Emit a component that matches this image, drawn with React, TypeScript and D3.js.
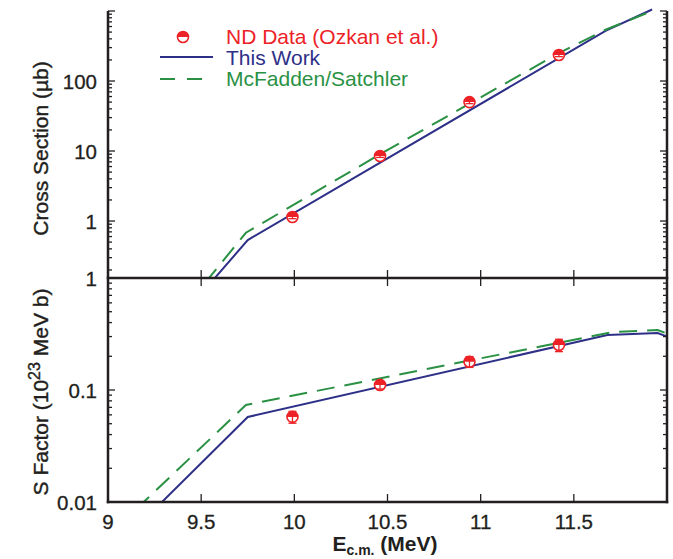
import React from 'react';
import * as d3 from 'd3';

// ---- data ----
const energies = [9.99, 10.46, 10.94, 11.42];
const crossSection = [1.14, 8.5, 50, 235];
const crossSectionErr = [0.06, 0.4, 2.5, 12];
const sFactor = [0.0575, 0.111, 0.179, 0.252];
const sFactorErr = [0.007, 0.009, 0.02, 0.032];

const thisWorkCsE = [9.55, 9.75, 11.67, 11.92];
const thisWorkCs = [0.13, 0.535, 520, 1050];
const mcfCsE = [9.52, 9.74, 10.46, 11.42, 11.67, 11.92];
const mcfCs = [0.13, 0.68, 9.0, 250, 540, 1000];

const thisWorkSE = [9.25, 9.75, 11.68, 11.95, 12.0];
const thisWorkS = [0.0086, 0.0574, 0.31, 0.323, 0.3];
const mcfSE = [9.15, 9.74, 11.71, 11.95, 12.0];
const mcfS = [0.0086, 0.0735, 0.329, 0.343, 0.32];

const xTicks = [9, 9.5, 10, 10.5, 11, 11.5];
const xTickLabels = ['9', '9.5', '10', '10.5', '11', '11.5'];
const topTicks = [1, 10, 100];
const topTickLabels = ['1', '10', '100'];
const bottomTicks = [0.01, 0.1, 1];
const bottomTickLabels = ['0.01', '0.1', '1'];

const legendLabels = ['ND Data (Ozkan et al.)', 'This Work', 'McFadden/Satchler'];

// ---- style ----
const RED = '#ec2227';
const BLUE = '#2e3088';
const GREEN = '#2a9144';
const AXIS = '#231f20';
const FONT = '"Liberation Sans", Arial, Helvetica, sans-serif';

const X0 = 108, X1 = 667;
const TOP0 = 11, MID = 278, BOT = 502;

const x = d3.scaleLinear().domain([9, 12]).range([X0, X1]);
const yTop = d3.scaleLog().domain([0.1535, 1000]).range([MID, TOP0]);
const yBot = d3.scaleLog().domain([0.01, 1]).range([BOT, MID]);

function logMinorTicks(domain: number[]) {
  const out: { v: number; major: boolean }[] = [];
  const lo = Math.floor(Math.log10(domain[0]));
  const hi = Math.ceil(Math.log10(domain[1]));
  for (let e = lo; e <= hi; e++) {
    for (let m = 1; m <= 9; m++) {
      const v = m * Math.pow(10, e);
      if (v >= domain[0] * 0.9999 && v <= domain[1] * 1.0001) out.push({ v, major: m === 1 });
    }
  }
  return out;
}

function Marker({ cx, cy, yLo, yHi }: { cx: number; cy: number; yLo?: number; yHi?: number }) {
  const r = 5.5;
  return (
    <g>
      <circle cx={cx} cy={cy} r={r} fill="white" stroke={RED} strokeWidth={1.6} />
      <path d={`M${cx - r},${cy} A${r},${r} 0 0 1 ${cx + r},${cy} Z`} fill={RED} />
      {yLo !== undefined && yHi !== undefined && (
        <g stroke={RED} strokeWidth={1.3}>
          <line x1={cx} x2={cx} y1={yLo} y2={yHi} />
          <line x1={cx - 4} x2={cx + 4} y1={yLo} y2={yLo} />
          <line x1={cx - 4} x2={cx + 4} y1={yHi} y2={yHi} />
        </g>
      )}
    </g>
  );
}

export default function App() {
  const lineTop = d3.line<[number, number]>().x((d) => x(d[0])).y((d) => yTop(d[1]));
  const lineBot = d3.line<[number, number]>().x((d) => x(d[0])).y((d) => yBot(d[1]));
  const zip = (a: number[], b: number[]) => a.map((v, i) => [v, b[i]] as [number, number]);

  const topMinor = logMinorTicks(yTop.domain());
  const botMinor = logMinorTicks(yBot.domain());

  return (
    <svg width={673} height={559} style={{ position: 'absolute', left: 0, top: 0 }} fontFamily={FONT}>
      <defs>
        <clipPath id="clipTop">
          <rect x={X0} y={0} width={X1 - X0} height={MID} />
        </clipPath>
        <clipPath id="clipBot">
          <rect x={X0} y={MID} width={X1 - X0} height={BOT - MID} />
        </clipPath>
      </defs>

      {/* curves top */}
      <g clipPath="url(#clipTop)" fill="none" strokeWidth={2}>
        <path d={lineTop(zip(thisWorkCsE, thisWorkCs)) || ''} stroke={BLUE} />
        <path d={lineTop(zip(mcfCsE, mcfCs)) || ''} stroke={GREEN} strokeDasharray="18,10" />
      </g>
      {/* curves bottom */}
      <g clipPath="url(#clipBot)" fill="none" strokeWidth={2}>
        <path d={lineBot(zip(thisWorkSE, thisWorkS)) || ''} stroke={BLUE} />
        <path d={lineBot(zip(mcfSE, mcfS)) || ''} stroke={GREEN} strokeDasharray="18,10" />
      </g>

      {/* data points */}
      {energies.map((e, i) => (
        <Marker key={'t' + i} cx={x(e)} cy={yTop(crossSection[i])}
          yLo={yTop(crossSection[i] - crossSectionErr[i])} yHi={yTop(crossSection[i] + crossSectionErr[i])} />
      ))}
      {energies.map((e, i) => (
        <Marker key={'b' + i} cx={x(e)} cy={yBot(sFactor[i])}
          yLo={yBot(sFactor[i] - sFactorErr[i])} yHi={yBot(sFactor[i] + sFactorErr[i])} />
      ))}

      {/* axes frame */}
      <g stroke={AXIS} strokeWidth={2.5} fill="none">
        <line x1={X0} x2={X0} y1={TOP0} y2={BOT + 1.25} />
        <line x1={X1} x2={X1} y1={TOP0} y2={BOT + 1.25} />
        <line x1={X0 - 1.25} x2={X1 + 1.25} y1={MID} y2={MID} />
        <line x1={X0 - 1.25} x2={X1 + 1.25} y1={BOT} y2={BOT} />
      </g>

      {/* y ticks */}
      <g stroke={AXIS} strokeWidth={1.3}>
        {topMinor.map((t, i) => {
          const y = yTop(t.v);
          const L = t.major ? 7 : 4;
          return (
            <g key={'tm' + i}>
              <line x1={X0} x2={X0 + L} y1={y} y2={y} />
              <line x1={X1} x2={X1 - L} y1={y} y2={y} />
            </g>
          );
        })}
        {botMinor.map((t, i) => {
          const y = yBot(t.v);
          const L = t.major ? 7 : 4;
          return (
            <g key={'bm' + i}>
              <line x1={X0} x2={X0 + L} y1={y} y2={y} />
              <line x1={X1} x2={X1 - L} y1={y} y2={y} />
            </g>
          );
        })}
        {xTicks.map((t, i) => (
          <g key={'xt' + i}>
            <line x1={x(t)} x2={x(t)} y1={BOT} y2={BOT - 8} />
            <line x1={x(t)} x2={x(t)} y1={MID - 8} y2={MID + 8} />
          </g>
        ))}
      </g>

      {/* tick labels */}
      <g fontSize={20.5} fill={AXIS} stroke={AXIS} strokeWidth={0.3}>
        {topTicks.map((t, i) => (
          <text key={'tl' + i} x={97} y={yTop(t)} textAnchor="end" dominantBaseline="central">
            {topTickLabels[i]}
          </text>
        ))}
        {bottomTicks.map((t, i) => (
          <text key={'bl' + i} x={97} y={yBot(t)} textAnchor="end" dominantBaseline="central">
            {bottomTickLabels[i]}
          </text>
        ))}
        {xTicks.map((t, i) => (
          <text key={'xl' + i} x={x(t)} y={529} textAnchor="middle">
            {xTickLabels[i]}
          </text>
        ))}
      </g>

      {/* axis titles */}
      <text x={385} y={551} textAnchor="middle" fontSize={21} fontWeight="bold" fill={AXIS}>
        E<tspan fontSize={14} dy={4}>c.m.</tspan>
        <tspan dy={-4}> (MeV)</tspan>
      </text>
      <g fill={AXIS} stroke={AXIS} strokeWidth={0.4} fontSize={21}>
        <text transform={`translate(48,${(TOP0 + MID) / 2 + 4}) rotate(-90)`} textAnchor="middle">
          Cross Section (µb)
        </text>
        <text transform={`translate(48,${(MID + BOT) / 2 + 2}) rotate(-90)`} textAnchor="middle">
          S Factor (10<tspan fontSize={16} dy={-8}>23</tspan>
          <tspan dy={8}> MeV b)</tspan>
        </text>
      </g>

      {/* legend */}
      <Marker cx={183} cy={37} />
      <line x1={160} x2={213} y1={57} y2={57} stroke={BLUE} strokeWidth={2} />
      <line x1={160} x2={210} y1={79} y2={79} stroke={GREEN} strokeWidth={2} strokeDasharray="15,12" />
      <g fontSize={21}>
        <text x={226} y={44} fill={RED}>{legendLabels[0]}</text>
        <text x={226} y={65} fill={BLUE}>{legendLabels[1]}</text>
        <text x={226} y={86} fill={GREEN}>{legendLabels[2]}</text>
      </g>
    </svg>
  );
}
